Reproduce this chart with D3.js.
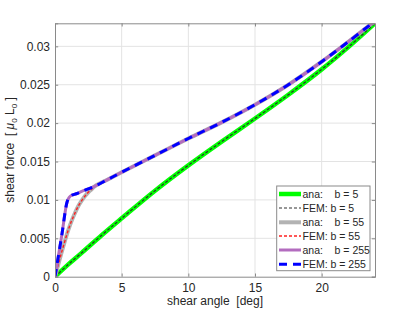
<!DOCTYPE html>
<html><head><meta charset="utf-8">
<script src="https://cdn.jsdelivr.net/npm/d3@7"></script>
<style>
body{margin:0;background:#fff;}
svg{display:block;font-family:"Liberation Sans",Arial,sans-serif;}
text{white-space:pre;}
</style></head><body>
<svg id="c" width="415" height="311"></svg>
<script>
// ---- data ----
const xTicks = [0, 5, 10, 15, 20];
const yTicks = [0, 0.005, 0.01, 0.015, 0.02, 0.025, 0.03];
const yTickLabels = ["0", "0.005", "0.01", "0.015", "0.02", "0.025", "0.03"];

const angB5 = [0, 1, 2, 3.5, 5, 7.5, 10, 12.5, 15, 17.5, 20, 22, 24];
const anaB5 = [0, 0.0016, 0.0031, 0.0054, 0.0076, 0.0112, 0.0145, 0.0176, 0.0206, 0.0237, 0.0270, 0.0299, 0.0330];
const femB5 = [0, 0.0016, 0.0031, 0.0054, 0.0076, 0.0112, 0.0145, 0.0176, 0.0206, 0.0237, 0.0270, 0.0299, 0.0330];

const angB55 = [0, 0.25, 0.5, 0.75, 1, 1.25, 1.5, 1.75, 2, 2.25, 2.5, 2.75, 3, 4, 5, 7.5, 10, 12.5, 15, 17.5, 20, 22, 24];
const anaB55 = [0, 0.0016, 0.0032, 0.0047, 0.0061, 0.0073, 0.0083, 0.0092, 0.0099, 0.0105, 0.0110, 0.0114, 0.0118, 0.0127, 0.0136, 0.0158, 0.0180, 0.0201, 0.0224, 0.0250, 0.0280, 0.0306, 0.0333];
const femB55 = [0, 0.0016, 0.0032, 0.0047, 0.0061, 0.0073, 0.0083, 0.0092, 0.0099, 0.0105, 0.0110, 0.0114, 0.0118, 0.0127, 0.0136, 0.0158, 0.0180, 0.0201, 0.0224, 0.0250, 0.0280, 0.0306, 0.0333];

const angB255 = [0, 0.5, 0.9, 1.05, 1.25, 1.6, 2, 3, 4, 5, 7.5, 10, 12.5, 15, 17.5, 20, 22, 24];
const anaB255 = [0, 0.0053, 0.0097, 0.0103, 0.0106, 0.0108, 0.0111, 0.0118, 0.0127, 0.0136, 0.0158, 0.0180, 0.0201, 0.0224, 0.0250, 0.0280, 0.0306, 0.0333];
const femB255 = [0, 0.0053, 0.0097, 0.0103, 0.0106, 0.0108, 0.0111, 0.0118, 0.0127, 0.0136, 0.0158, 0.0180, 0.0201, 0.0224, 0.0250, 0.0280, 0.0306, 0.0333];

const legendLabels = ["ana:    b = 5", "FEM: b = 5", "ana:    b = 55", "FEM: b = 55", "ana:    b = 255", "FEM: b = 255"];

// ---- layout ----
const L = 55, R = 375, T = 23.3, B = 276.7;
const svg = d3.select("#c");
const x = d3.scaleLinear().domain([0, 24]).range([L, R]);
const y = d3.scaleLinear().domain([0, 0.033]).range([B, T]);

// grid
const g = svg.append("g");
g.selectAll(".gx").data(xTicks.filter(d => d > 0)).enter().append("line")
  .attr("x1", d => x(d)).attr("x2", d => x(d)).attr("y1", T).attr("y2", B)
  .attr("stroke", "#e3e3e3").attr("stroke-width", 1);
g.selectAll(".gy").data(yTicks.filter(d => d > 0)).enter().append("line")
  .attr("y1", d => y(d)).attr("y2", d => y(d)).attr("x1", L).attr("x2", R)
  .attr("stroke", "#e3e3e3").attr("stroke-width", 1);

// series
const defs = svg.append("defs");
defs.append("clipPath").attr("id", "clip").append("rect")
  .attr("x", L).attr("y", T).attr("width", R - L).attr("height", B - T);
const plot = svg.append("g").attr("clip-path", "url(#clip)");

const series = [
  {xs: angB5, ys: anaB5, color: "#00ff00", w: 4.5, dash: null},
  {xs: angB5, ys: femB5, color: "#303030", w: 1.2, dash: "3,2"},
  {xs: angB55, ys: anaB55, color: "#b3b3b3", w: 4, dash: null},
  {xs: angB55, ys: femB55, color: "#ff2020", w: 1.4, dash: "3,2"},
  {xs: angB255, ys: anaB255, color: "#b36cbf", w: 3, dash: null},
  {xs: angB255, ys: femB255, color: "#0000ff", w: 3, dash: "8,6"}
];
const line = d3.line().x(d => x(d[0])).y(d => y(d[1])).curve(d3.curveCatmullRom.alpha(0.5));
series.forEach(s => {
  plot.append("path").datum(s.xs.map((v, i) => [v, s.ys[i]]))
    .attr("d", line).attr("fill", "none").attr("stroke", s.color)
    .attr("stroke-width", s.w).attr("stroke-dasharray", s.dash);
});

// axes (box with inward ticks)
const axCol = "#8a8a8a";
const xb = d3.axisBottom(x).tickValues(xTicks).tickSize(-3.2).tickPadding(7).tickFormat(d3.format("d"));
const xt = d3.axisTop(x).tickValues(xTicks).tickSize(-3.2).tickFormat("");
const yl = d3.axisLeft(y).tickValues(yTicks).tickSize(-3.2).tickPadding(5).tickFormat((d, i) => yTickLabels[i]);
const yr = d3.axisRight(y).tickValues(yTicks).tickSize(-3.2).tickFormat("");
[[xb, `translate(0,${B})`], [xt, `translate(0,${T})`], [yl, `translate(${L},0)`], [yr, `translate(${R},0)`]].forEach(([a, t]) => {
  const ax = svg.append("g").attr("transform", t).call(a);
  ax.select(".domain").attr("stroke", axCol);
  ax.selectAll(".tick line").attr("stroke", axCol);
  ax.selectAll("text").attr("fill", "#262626").attr("font-size", 12)
    .attr("font-family", "Liberation Sans, Arial, sans-serif");
});

// axis labels
svg.append("text").attr("x", (L + R) / 2).attr("y", 305).attr("text-anchor", "middle")
  .attr("font-size", 12).attr("fill", "#262626").text("shear angle  [deg]");
const yt = svg.append("text").attr("transform", `translate(14,150) rotate(-90)`)
  .attr("text-anchor", "middle").attr("font-size", 12).attr("fill", "#262626");
yt.append("tspan").text("shear force  [ ");
yt.append("tspan").attr("font-style", "italic").text("μ");
yt.append("tspan").attr("font-size", 8).attr("dy", 3).text("0");
yt.append("tspan").attr("dy", -3).text(" L");
yt.append("tspan").attr("font-size", 8).attr("dy", 3).text("0");
yt.append("tspan").attr("dy", -3).text(" ]");

// legend
const lg = svg.append("g");
lg.append("rect").attr("x", 276.7).attr("y", 186).attr("width", 93.3).attr("height", 84.7)
  .attr("fill", "#fff").attr("stroke", "#8a8a8a").attr("stroke-width", 1);
const rowY = [194, 208, 222.3, 236, 250, 264.3];
series.forEach((s, i) => {
  lg.append("line").attr("x1", 279).attr("x2", 301).attr("y1", rowY[i]).attr("y2", rowY[i])
    .attr("stroke", s.color).attr("stroke-width", s.w).attr("stroke-dasharray", s.dash);
  lg.append("text").attr("x", 302.5).attr("y", rowY[i]).attr("dy", "0.35em")
    .attr("font-size", 10.5).attr("fill", "#262626")
    .text(legendLabels[i]);
});
</script>
</body></html>
